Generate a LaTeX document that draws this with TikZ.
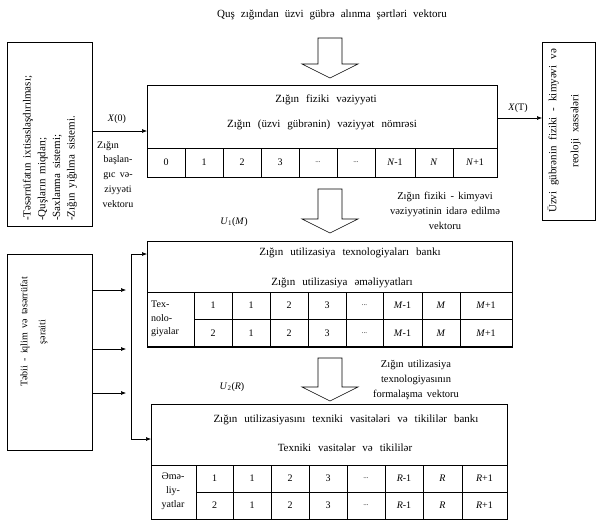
\documentclass[tikz,border=0pt]{standalone}
\usepackage{fontspec}
\setmainfont{Liberation Serif}
\usetikzlibrary{arrows.meta}
\newcommand\wsp{\spaceskip=4.2pt plus 1pt\relax}
\newcommand\tf{\fontsize{10}{15}\selectfont\wsp}
\newcommand\hf{\fontsize{11}{15}\selectfont\spaceskip=7pt plus 1pt\relax}
\newcommand\ttf{\fontsize{11}{15}\selectfont\spaceskip=6pt plus 1pt\relax}
\newcommand\tfa{\fontsize{11}{14.7}\selectfont\spaceskip=5pt plus 1pt\relax}
\newcommand\tfb{\fontsize{11}{22}\selectfont\spaceskip=6pt plus 1pt\relax}
\newcommand\tfc{\fontsize{10}{18}\selectfont\wsp}
\newcommand\tfd{\fontsize{10}{13.5}\selectfont\wsp}
\newcommand\tfe{\fontsize{10}{14}\selectfont\wsp}
\newcommand\tfv{\fontsize{10.5}{15}\selectfont\wsp}
\newcommand\ddd{{\fontsize{7}{7}\selectfont ...}}
\begin{document}
\begin{tikzpicture}[x=1pt,y=-1pt,
  box/.style={draw, line width=0.6pt, inner sep=0pt, anchor=north west},
  txt/.style={font=\tf, inner sep=0pt},
  head/.style={font=\hf, inner sep=0pt},
  conn/.style={line width=0.6pt, -{Latex[length=5pt,width=4pt]}},
  blk/.style={draw, line width=0.6pt, fill=white}]
\useasboundingbox (0,0) rectangle (597,520);

% title
\node[txt, font=\ttf] (title) at (332,15) {Quş zığından üzvi gübrə alınma şərtləri vektoru};
% block arrow 1
\draw[blk] (318,38) -- (318,64) -- (302,64) -- (330,78) -- (358,64) -- (342,64) -- (342,38) -- cycle;

% left box 1
\node[box, minimum width=85pt, minimum height=184pt] (lb1) at (7,42) {};
\node[txt, rotate=90, anchor=west, align=left, font=\tfa] (lb1t) at (50,221)
  {-Təsərrüfatın ixtisaslaşdırılması;\\-Quşların miqdarı;\\-Saxlanma sistemi;\\-Zığın yığılma sistemi.};

% main box 1
\node[box, minimum width=350pt, minimum height=92pt] (b1) at (147,85) {};
\node[head] (b1a) at (326,100) {Zığın fiziki vəziyyəti};
\node[head] (b1b) at (322,125) {Zığın (üzvi gübrənin) vəziyyət nömrəsi};
\draw[line width=0.6pt] (147,148) -- (497,148);
\foreach \a/\b/\t in {147/185/0,185/223/1,223/261/2,261/299/3,299/337/\ddd,337/375/\ddd,375/415/{\textit{N}-1},415/453/{\textit{N}},453/497/{\textit{N}+1}}{
  \draw[line width=0.6pt] (\b,148) -- (\b,177);
  \node[txt] at ({(\a+\b)/2},162.5) {\t};
}

% X(0)
\draw[conn] (lb1.east |- 0,131) -- (b1.west |- 0,131);
\node[txt] (x0) at (117,119) {\textit{X}(0)};
\node[txt, anchor=west] (zl1) at (97,146) {Zığın};
\node[txt, align=center] (zl2) at (118,182) {başlan-\\gıc və-\\ziyyəti\\vektoru};

% right box
\node[box, minimum width=53pt, minimum height=178pt] (rb) at (542,42) {};
\node[txt, rotate=90, align=center, font=\tfb] (rbt) at (564,131)
  {Üzvi gübrənin fiziki - kimyəvi və\\reoloji xassələri};
\draw[conn] (b1.east |- 0,118) -- (rb.west |- 0,118);
\node[txt] (xt) at (518,108) {\textit{X}(T)};

% block arrow 2
\draw[blk] (318,189) -- (318,219) -- (302,219) -- (330,233) -- (358,219) -- (342,219) -- (342,189) -- cycle;
\node[txt, align=center, font=\tfv] (v2) at (445,211) {Zığın fiziki - kimyəvi\\vəziyyətinin idarə edilmə\\vektoru};
\node[txt] (u1) at (234,222) {\textit{U}\textsubscript{1}(\textit{M})};

% box 2
\node[box, minimum width=365pt, minimum height=106pt] (b2) at (147,241) {};
\node[head] (b2a) at (350,253) {Zığın utilizasiya texnologiyaları bankı};
\node[head] (b2b) at (342,283) {Zığın utilizasiya əməliyyatları};
\draw[line width=0.6pt] (147,292) -- (512,292);
\draw[line width=0.6pt] (194,319) -- (512,319);
\draw[line width=1.2pt] (147,347) -- (512,347);
\node[txt, align=left, anchor=west, font=\tfd] (tex) at (151,319) {Tex-\\nolo-\\giyalar};
\foreach \a/\b/\t/\u in {194/232/1/2,232/270/1/1,270/308/2/2,308/346/3/3,346/383/\ddd/\ddd,383/422/{\textit{M}-1}/{\textit{M}-1},422/460/{\textit{M}}/{\textit{M}},460/512/{\textit{M}+1}/{\textit{M}+1}}{
  \draw[line width=0.6pt] (\a,292) -- (\a,347);
  \node[txt] at ({(\a+\b)/2},305.5) {\t};
  \node[txt] at ({(\a+\b)/2},333) {\u};
}

% Tebii box
\node[box, minimum width=85pt, minimum height=196pt] (lb2) at (7,254) {};
\node[txt, rotate=90, align=center, font=\tfc] (lb2t) at (34,332)
  {Təbii - iqlim və təsərrüfat\\şəraiti};
\coordinate (vt) at (131,254);
\coordinate (vb) at (131,439);
\draw[line width=0.6pt] (vb) -- (vt);
\draw[conn] (vt) -- (b2.west |- vt);
\foreach \y in {290,349,393}{
  \draw[conn] (lb2.east |- 0,\y) -- (126,\y);
}

% block arrow 3
\draw[blk] (318,358) -- (318,387) -- (302,387) -- (330,401) -- (358,387) -- (342,387) -- (342,358) -- cycle;
\node[txt] (u2) at (232,387) {\textit{U}\textsubscript{2}(\textit{R})};
\node[txt, align=center, font=\tfv] (v3) at (416,380) {Zığın utilizasiya\\texnologiyasının\\formalaşma vektoru};

% box 3
\node[box, minimum width=356pt, minimum height=115pt] (b3) at (151,404) {};
\draw[conn] (vb) -- (b3.west |- vb);
\node[head] (b3a) at (346,420) {Zığın utilizasiyasını texniki vasitələri və tikililər bankı};
\node[head] (b3b) at (345,448) {Texniki vasitələr və tikililər};
\draw[line width=0.6pt] (151,465) -- (507,465);
\draw[line width=0.6pt] (196,492) -- (507,492);
\node[txt, align=center, font=\tfe] (eme) at (173,491) {Əmə-\\liy-\\yatlar};
\foreach \a/\b/\t/\u in {196/233/1/2,233/271/1/1,271/309/2/2,309/347/3/3,347/385/\ddd/\ddd,385/423/{\textit{R}-1}/{\textit{R}-1},423/462/{\textit{R}}/{\textit{R}},462/507/{\textit{R}+1}/{\textit{R}+1}}{
  \draw[line width=0.6pt] (\a,465) -- (\a,519);
  \node[txt] at ({(\a+\b)/2},478.5) {\t};
  \node[txt] at ({(\a+\b)/2},505.5) {\u};
}
\end{tikzpicture}
\end{document}
